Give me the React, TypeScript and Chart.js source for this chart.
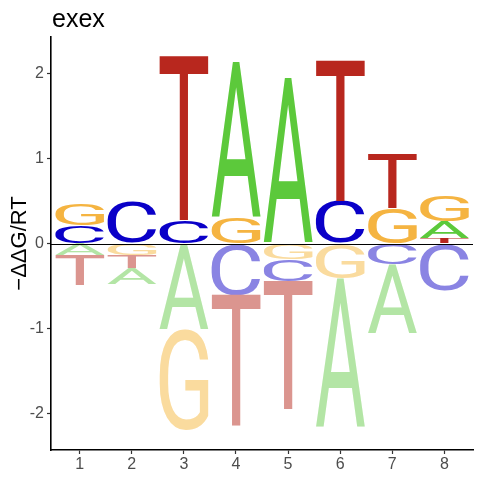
import React, { useEffect, useRef } from 'react';
import { Chart, registerables } from 'chart.js';

Chart.register(...registerables);

// ---- data ----
const positions = [1, 2, 3, 4, 5, 6, 7, 8];
const letters = ['A', 'C', 'G', 'T'];
const valuesA = [-0.14, -0.19, -1.01, 1.84, 1.95, -1.76, -0.82, 0.2];
const valuesC = [0.22, 0.48, 0.28, -0.61, -0.26, 0.5, -0.24, -0.55];
const valuesG = [0.26, -0.14, -1.19, 0.31, -0.18, -0.41, 0.42, 0.3];
const valuesT = [-0.35, -0.15, 1.93, -1.54, -1.51, 1.66, 0.64, 0.06];
const xTicks = [1, 2, 3, 4, 5, 6, 7, 8];
const yTicks = [-2, -1, 0, 1, 2];
const titleText = 'exex';
const yLabel = '\u2212\u0394\u0394G/RT';

const positiveColors: Record<string, string> = {
  A: '#5CC93B',
  C: '#0A00C8',
  G: '#F5B441',
  T: '#B8271E',
};
const negativeColors: Record<string, string> = {
  A: '#B3E5A5',
  C: '#8A84E3',
  G: '#FADB9E',
  T: '#DB958F',
};

const byLetter: Record<string, number[]> = { A: valuesA, C: valuesC, G: valuesG, T: valuesT };

const GLYPH_FONT = '400 200px Roboto, "Liberation Sans", sans-serif';
const TEXT_FONT = '"Liberation Sans", Arial, sans-serif';

function drawGlyph(
  ctx: CanvasRenderingContext2D,
  letter: string,
  left: number,
  top: number,
  w: number,
  h: number,
  color: string
) {
  if (w <= 0 || h <= 0.3) return;
  ctx.save();
  ctx.font = GLYPH_FONT;
  ctx.textAlign = 'left';
  ctx.textBaseline = 'alphabetic';
  const m = ctx.measureText(letter);
  const inkLeft = -m.actualBoundingBoxLeft;
  const inkRight = m.actualBoundingBoxRight;
  const inkTop = -m.actualBoundingBoxAscent;
  const inkBottom = m.actualBoundingBoxDescent;
  const gw = inkRight - inkLeft;
  const gh = inkBottom - inkTop;
  ctx.translate(left, top);
  ctx.scale(w / gw, h / gh);
  ctx.fillStyle = color;
  ctx.fillText(letter, -inkLeft, -inkTop);
  ctx.restore();
}

const logoPlugin = {
  id: 'logoPlugin',
  afterDatasetsDraw(chart: any) {
    const ctx: CanvasRenderingContext2D = chart.ctx;
    chart.data.datasets.forEach((ds: any, di: number) => {
      const meta = chart.getDatasetMeta(di);
      meta.data.forEach((bar: any, i: number) => {
        const p = bar.getProps(['x', 'y', 'base', 'width'], true);
        const letter = ds.glyphs[i];
        const v = ds.data[i].y;
        const top = Math.min(p.y, p.base);
        const h = Math.abs(p.base - p.y);
        drawGlyph(ctx, letter, p.x - p.width / 2, top, p.width, h, v >= 0 ? positiveColors[letter] : negativeColors[letter]);
      });
    });
    // zero line
    const yz = chart.scales.y.getPixelForValue(0);
    ctx.save();
    ctx.strokeStyle = '#000000';
    ctx.lineWidth = 1;
    ctx.beginPath();
    ctx.moveTo(chart.chartArea.left, Math.round(yz) + 0.5);
    ctx.lineTo(chart.chartArea.right, Math.round(yz) + 0.5);
    ctx.stroke();
    ctx.restore();
  },
  afterDraw(chart: any) {
    const ctx: CanvasRenderingContext2D = chart.ctx;
    ctx.save();
    ctx.font = `25px ${TEXT_FONT}`;
    ctx.fillStyle = '#000000';
    ctx.textAlign = 'left';
    ctx.textBaseline = 'alphabetic';
    ctx.fillText(titleText, chart.chartArea.left + 1, 27);
    ctx.restore();
  },
};

export default function App() {
  const ref = useRef<HTMLCanvasElement | null>(null);

  useEffect(() => {
    if (!ref.current) return;
    const ranked = positions.map((_, i) =>
      letters
        .map((l) => ({ l, v: byLetter[l][i] }))
        .sort((a, b) => Math.abs(a.v) - Math.abs(b.v))
    );
    const datasets = [0, 1, 2, 3].map((k) => ({
      label: 'rank' + k,
      data: positions.map((p, i) => ({ x: p, y: ranked[i][k].v })),
      glyphs: positions.map((_, i) => ranked[i][k].l),
      backgroundColor: 'rgba(0,0,0,0)',
      borderWidth: 0,
      stack: 'logo',
      barPercentage: 0.94,
      categoryPercentage: 1,
    }));

    const tickFont = { family: TEXT_FONT, size: 16 };

    const chart = new Chart(ref.current, {
      type: 'bar',
      data: { datasets: datasets as any },
      options: {
        animation: false,
        responsive: false,
        maintainAspectRatio: false,
        layout: { padding: { top: 37, right: 7, left: 0, bottom: 0 } },
        plugins: {
          legend: { display: false },
          tooltip: { enabled: false },
          title: { display: false },
        },
        scales: {
          x: {
            type: 'linear',
            min: 0.45,
            max: 8.55,
            stacked: true,
            offset: false,
            afterBuildTicks: (s: any) => {
              s.ticks = xTicks.map((v) => ({ value: v }));
            },
            afterFit: (s: any) => {
              s.height = 30;
            },
            grid: {
              display: true,
              offset: false,
              drawOnChartArea: false,
              drawTicks: true,
              tickLength: 4,
              tickColor: '#333333',
              tickWidth: 1.2,
            },
            border: { display: true, color: '#000000', width: 1.6 },
            ticks: {
              color: '#4D4D4D',
              font: tickFont,
              padding: 1,
              maxRotation: 0,
              autoSkip: false,
              callback: (v: any) => String(v),
            },
          },
          y: {
            type: 'linear',
            min: -2.43,
            max: 2.43,
            stacked: true,
            afterBuildTicks: (s: any) => {
              s.ticks = yTicks.map((v) => ({ value: v }));
            },
            afterFit: (s: any) => {
              s.width = 51;
            },
            title: {
              display: true,
              text: yLabel,
              color: '#000000',
              font: { family: TEXT_FONT, size: 22 },
              padding: { top: 7, bottom: 0 },
            },
            grid: {
              display: true,
              drawOnChartArea: false,
              drawTicks: true,
              tickLength: 4,
              tickColor: '#333333',
              tickWidth: 1.2,
            },
            border: { display: true, color: '#000000', width: 1.6 },
            ticks: {
              color: '#4D4D4D',
              font: tickFont,
              padding: 3,
              autoSkip: false,
              callback: (v: any) => String(v),
            },
          },
        },
      } as any,
      plugins: [logoPlugin],
    });
    return () => chart.destroy();
  }, []);

  return (
    <div style={{ position: 'fixed', left: 0, top: 0, width: 480, height: 480, background: '#ffffff' }}>
      <canvas ref={ref} width={480} height={480} style={{ display: 'block', width: 480, height: 480 }} />
    </div>
  );
}
